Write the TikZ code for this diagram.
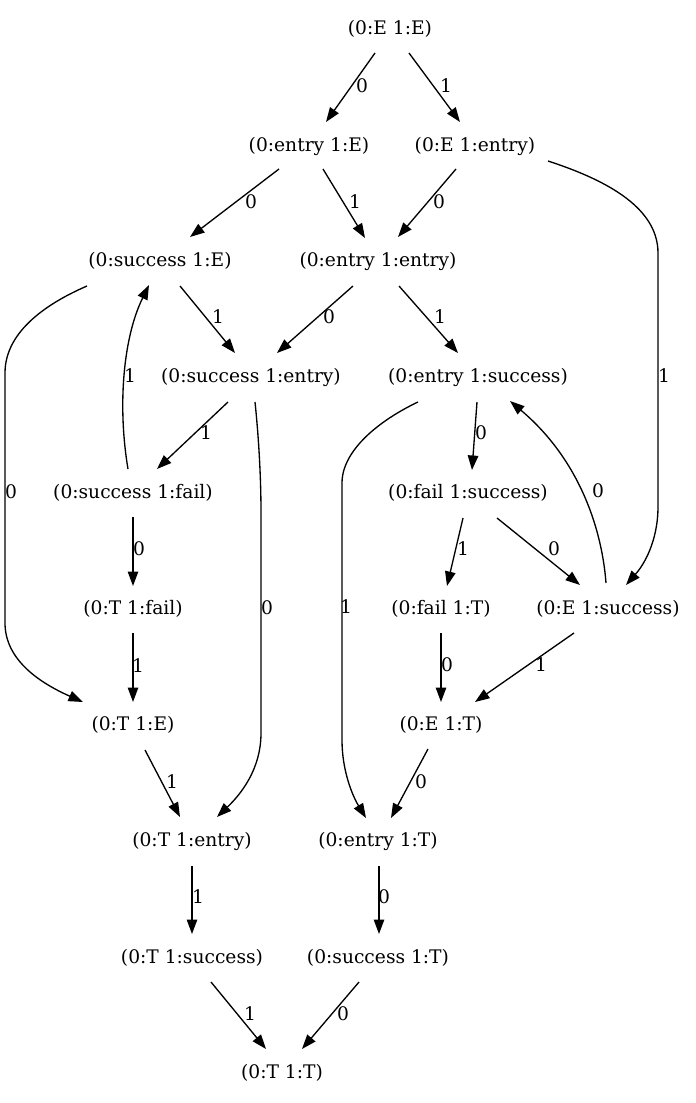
\documentclass[tikz,border=0pt]{standalone}
\usepackage{fontspec}
\setmainfont{DejaVu Serif}
\usetikzlibrary{arrows.meta}
\tikzset{
  st/.style={inner sep=0pt, text height=13.6pt, text depth=0pt, font=\fontsize{18.67}{22}\selectfont},
  lab/.style={st},
  e/.style={line width=1.33pt, -{Triangle[length=14.5pt,width=10.5pt]}},
}
\begin{document}
\begin{tikzpicture}[x=1pt,y=-1pt]
\fill[white] (0,0) rectangle (696,1103);
\useasboundingbox (0,0) rectangle (696,1103);
% states
\node[st] (A) at (390,28) {(0:E 1:E)};
\node[st] (B) at (309,145) {(0:entry 1:E)};
\node[st] (C) at (475,145) {(0:E 1:entry)};
\node[st] (D) at (160,260) {(0:success 1:E)};
\node[st] (F) at (378,260) {(0:entry 1:entry)};
\node[st] (G) at (251,376) {(0:success 1:entry)};
\node[st] (H) at (478,376) {(0:entry 1:success)};
\node[st] (I) at (133,492) {(0:success 1:fail)};
\node[st] (J) at (468,492) {(0:fail 1:success)};
\node[st] (K) at (133,608) {(0:T 1:fail)};
\node[st] (L) at (441,608) {(0:fail 1:T)};
\node[st] (M) at (608,608) {(0:E 1:success)};
\node[st] (N) at (133,724) {(0:T 1:E)};
\node[st] (O) at (441,724) {(0:E 1:T)};
\node[st] (P) at (192,840) {(0:T 1:entry)};
\node[st] (Q) at (378,840) {(0:entry 1:T)};
\node[st] (R) at (192,957) {(0:T 1:success)};
\node[st] (S) at (378,957) {(0:success 1:T)};
\node[st] (T) at (282,1072) {(0:T 1:T)};
% edges
\draw[e] ([shift={(-15,25)}]A.center) -- ([shift={(17,-23)}]B.center);
\draw[e] ([shift={(19,25)}]A.center) -- ([shift={(-15,-23)}]C.center);
\draw[e] ([shift={(-30,24)}]B.center) -- ([shift={(30,-23)}]D.center);
\draw[e] ([shift={(14,24)}]B.center) -- ([shift={(-13,-22)}]F.center);
\draw[e] ([shift={(-19,24)}]C.center) -- ([shift={(20,-23)}]F.center);
\draw[e] ([shift={(73,16)}]C.center) .. controls (600,178) and (658,205) .. (658,253)
  -- (658,507) .. controls (658,535) and (648,560) .. ([shift={(18,-23)}]M.center);
\draw[e] ([shift={(20,26)}]D.center) -- ([shift={(-16,-23)}]G.center);
\draw[e] ([shift={(-73,26)}]D.center) .. controls (50,302) and (5,330) .. (5,373)
  -- (5,623) .. controls (5,660) and (40,683) .. ([shift={(-50,-22)}]N.center);
\draw[e] ([shift={(-25,26)}]F.center) -- ([shift={(26,-23)}]G.center);
\draw[e] ([shift={(21,26)}]F.center) -- ([shift={(-20,-23)}]H.center);
\draw[e] ([shift={(-23,26)}]G.center) -- ([shift={(24,-23)}]I.center);
\draw[e] ([shift={(4,26)}]G.center) .. controls (259,440) and (261,480) .. (261,513)
  -- (261,733) .. controls (261,770) and (240,795) .. ([shift={(25,-23)}]P.center);
\draw[e] ([shift={(-1,26)}]H.center) -- ([shift={(4,-22)}]J.center);
\draw[e] ([shift={(-60,26)}]H.center) .. controls (380,420) and (342,450) .. (342,483)
  -- (342,740) .. controls (342,770) and (352,795) .. ([shift={(-12,-22)}]Q.center);
\draw[e] ([shift={(-5,-23)}]I.center) .. controls (118,410) and (122,340) .. ([shift={(-11,25)}]D.center);
\draw[e] ([shift={(0,25)}]I.center) -- ([shift={(0,-22)}]K.center);
\draw[e] ([shift={(-5,26)}]J.center) -- ([shift={(6,-22)}]L.center);
\draw[e] ([shift={(29,26)}]J.center) -- ([shift={(-28,-23)}]M.center);
\draw[e] ([shift={(0,25)}]K.center) -- ([shift={(0,-22)}]N.center);
\draw[e] ([shift={(0,25)}]L.center) -- ([shift={(0,-22)}]O.center);
\draw[e] ([shift={(-34,25)}]M.center) -- ([shift={(34,-22)}]O.center);
\draw[e] ([shift={(-2,-25)}]M.center) .. controls (602,530) and (580,460) .. ([shift={(32,25)}]H.center);
\draw[e] ([shift={(12,26)}]N.center) -- ([shift={(-12,-23)}]P.center);
\draw[e] ([shift={(-13,25)}]O.center) -- ([shift={(13,-22)}]Q.center);
\draw[e] ([shift={(0,26)}]P.center) -- ([shift={(0,-23)}]R.center);
\draw[e] ([shift={(1,26)}]Q.center) -- ([shift={(1,-23)}]S.center);
\draw[e] ([shift={(19,25)}]R.center) -- ([shift={(-16,-23)}]T.center);
\draw[e] ([shift={(-19,25)}]S.center) -- ([shift={(20,-23)}]T.center);
% edge labels
\node[lab] (l1) at (362,86) {0};
\node[lab] (l2) at (446,86) {1};
\node[lab] (l3) at (251,202) {0};
\node[lab] (l4) at (355,202) {1};
\node[lab] (l5) at (439,202) {0};
\node[lab] (l6) at (664,376) {1};
\node[lab] (l7) at (218,317) {1};
\node[lab] (l8) at (11,492) {0};
\node[lab] (l9) at (329,317) {0};
\node[lab] (l10) at (440,317) {1};
\node[lab] (l11) at (206,433) {1};
\node[lab] (l12) at (267,608) {0};
\node[lab] (l13) at (481,433) {0};
\node[lab] (l14) at (346,607) {1};
\node[lab] (l15) at (130,376) {1};
\node[lab] (l16) at (139,549) {0};
\node[lab] (l17) at (463,549) {1};
\node[lab] (l18) at (554,549) {0};
\node[lab] (l19) at (138,666) {1};
\node[lab] (l20) at (447,665) {0};
\node[lab] (l21) at (541,665) {1};
\node[lab] (l22) at (598,491) {0};
\node[lab] (l23) at (172,782) {1};
\node[lab] (l24) at (421,782) {0};
\node[lab] (l25) at (198,897) {1};
\node[lab] (l26) at (384,897) {0};
\node[lab] (l27) at (250,1014) {1};
\node[lab] (l28) at (343,1014) {0};
\end{tikzpicture}
\end{document}
